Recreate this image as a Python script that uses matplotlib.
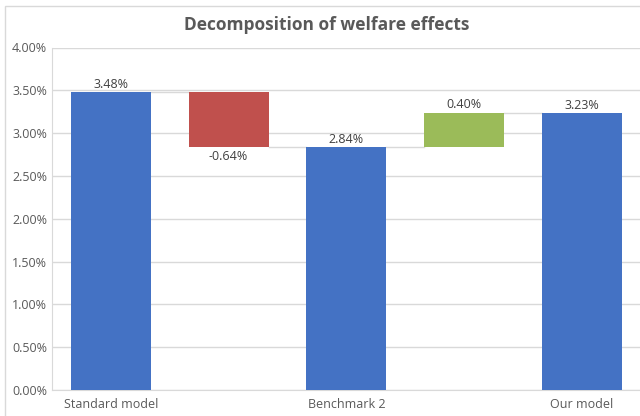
import matplotlib
matplotlib.use("Agg")
import matplotlib.pyplot as plt
from matplotlib.patches import Rectangle
from matplotlib.ticker import FuncFormatter, MultipleLocator

# Waterfall data (percent)
categories = ["Standard model", "", "Benchmark 2", "", "Our model"]
kinds = ["total", "delta", "total", "delta", "total"]
values = [3.48, -0.64, 2.84, 0.40, 3.23]

BLUE = "#4472C4"
RED = "#C0504D"
GREEN = "#9BBB59"
GRID = "#D9D9D9"
TEXT = "#595959"
LABEL = "#404040"

plt.rcParams["font.family"] = ["Open Sans", "DejaVu Sans"]

fig = plt.figure(figsize=(6.4, 4.16), dpi=100)
ax = fig.add_axes([52 / 640, 1 - 390 / 416, 1 - 52 / 640 + 0.001, (390 - 47.5) / 416])

# outer chart frame
fig.patches.append(Rectangle((5 / 640, -0.01), 1.0, 1 - 6 / 416 + 0.01,
                             transform=fig.transFigure, fill=False,
                             edgecolor="#D9D9D9", linewidth=1.0))

width = 0.68
running = 0.0
bottoms, heights, colors, tops = [], [], [], []
for kind, v in zip(kinds, values):
    if kind == "total":
        bottoms.append(0.0)
        heights.append(v)
        colors.append(BLUE)
        running = v
    else:
        bottoms.append(running if v >= 0 else running + v)
        heights.append(abs(v))
        colors.append(GREEN if v >= 0 else RED)
        running = running + v
    tops.append(running)

x = list(range(len(categories)))
ax.bar(x, heights, bottom=bottoms, width=width, color=colors, zorder=3)

# connector lines between consecutive bars
for i in range(len(x) - 1):
    level = tops[i]
    ax.plot([x[i] + width / 2, x[i + 1] - width / 2], [level, level],
            color=GRID, linewidth=1.0, zorder=2)

# data labels
for i, (kind, v) in enumerate(zip(kinds, values)):
    if kind == "delta" and v < 0:
        ax.text(x[i], bottoms[i] - 0.04, f"{v:.2f}%", ha="center", va="top",
                fontsize=9, color=LABEL)
    else:
        ax.text(x[i], bottoms[i] + heights[i] + 0.015, f"{v:.2f}%",
                ha="center", va="bottom", fontsize=9, color=LABEL)

ax.set_xlim(-0.5, len(x) - 0.5)
ax.set_ylim(0, 4.0)
ax.yaxis.set_major_locator(MultipleLocator(0.5))
ax.yaxis.set_major_formatter(FuncFormatter(lambda v, p: f"{v:.2f}%"))
ax.set_xticks(x)
ax.set_xticklabels(categories)
ax.tick_params(axis="both", length=0, labelsize=9, colors=TEXT)
ax.tick_params(axis="x", pad=6)
ax.grid(axis="y", color=GRID, linewidth=1.0, zorder=0)
for side in ["top", "right", "bottom"]:
    ax.spines[side].set_visible(False)
ax.spines["left"].set_color(GRID)
ax.spines["bottom"].set_visible(True)
ax.spines["bottom"].set_color(GRID)

fig.text(0.511, 1 - 25 / 416, "Decomposition of welfare effects", ha="center",
         va="center", fontsize=12.5, fontweight="bold", color=TEXT)

fig.savefig("out.png", dpi=100)
